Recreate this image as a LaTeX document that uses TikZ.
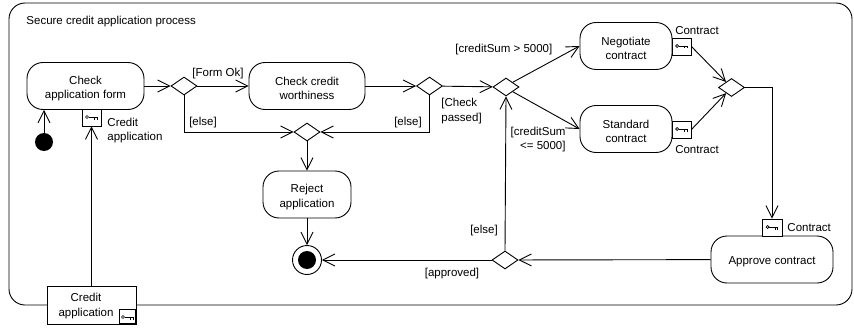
\documentclass[tikz,border=0pt]{standalone}
\usepackage{fontspec}
\setmainfont{Liberation Sans}
\usetikzlibrary{arrows.meta, shapes.geometric}
\tikzstyle{action} = [rectangle, rounded corners=16pt, minimum height=47pt, text centered, align=center, draw=black, inner sep=0pt, text height=28pt]
\tikzstyle{decision} = [diamond, minimum width=26pt, minimum height=18pt, inner sep=0pt, draw=black, fill=white]
\tikzstyle{pin} = [rectangle, minimum width=19pt, minimum height=17pt, inner sep=0pt, draw=black, fill=white]
\tikzstyle{label} = [inner sep=0pt, align=left, yshift=-2pt]
\tikzstyle{arrow} = [-{Straight Barb[length=12pt,width=12pt]}]
\newcommand{\keyglyph}[2]{%
  \draw[line width=0.7pt] (#1-4.5,#2) circle (1.5pt);
  \draw[line width=0.9pt] (#1-3,#2) -- (#1+6,#2);
  \draw[line width=0.7pt] (#1+3,#2) -- (#1+3,#2+2.5) (#1+5.5,#2) -- (#1+5.5,#2+2.5);
}
\begin{document}
\begin{tikzpicture}[x=1pt,y=-1pt,line width=0.9pt,font=\fontsize{11.5pt}{14.8pt}\selectfont]
\useasboundingbox (0,0) rectangle (854,329);

\draw[rounded corners=16pt] (9,3) rectangle (852,305);
\node (title) [label, anchor=west] at (26,20) {Secure credit application process};

% actions
\node (check_form) [action, minimum width=117pt] at (85.5,86) {Check\\application form};
\node (check_credit) [action, minimum width=116pt] at (307,86) {Check credit\\worthiness};
\node (reject) [action, minimum width=88pt] at (307,194.5) {Reject\\application};
\node (negotiate) [action, minimum width=92pt] at (626,46) {Negotiate\\contract};
\node (standard) [action, minimum width=92pt] at (626,129) {Standard\\contract};
\node (approve) [action, minimum width=122pt, text height=13pt] at (772,259.5) {Approve contract};

% decisions
\node (form_ok) [decision] at (184,86) {};
\node (passed) [decision] at (429.5,86) {};
\node (sum) [decision] at (506,87) {};
\node (merge) [decision] at (731.5,87.5) {};
\node (rejected) [decision] at (307,132) {};
\node (approved) [decision] at (505,260) {};

% start and end
\node (start) [circle, fill=black, minimum size=18pt, inner sep=0pt] at (44,142) {};
\node (final) [circle, draw=black, minimum size=29pt, inner sep=0pt] at (307,260) {};
\node (final_dot) [circle, fill=black, minimum size=18pt, inner sep=0pt] at (307,260) {};

% pins
\node (pin_form) [pin] at (91.5,117.5) {};
\node (pin_negotiate) [pin] at (681.5,46.5) {};
\node (pin_standard) [pin] at (681.5,129.5) {};
\node (pin_approve) [pin, minimum width=20pt] at (772,227.5) {};
\keyglyph{91.5}{117}
\keyglyph{681.5}{46}
\keyglyph{681.5}{129}
\keyglyph{772}{227}

% object
\node (credit_app) [rectangle, draw=black, minimum width=89pt, minimum height=38pt, inner sep=0pt, fill=white] at (91.5,305) {};
\node (credit_text) [align=center, inner sep=0pt, yshift=-1pt] at (86,305) {Credit\\application};
\node (pin_credit) [pin, minimum width=16pt, minimum height=14pt, anchor=south east] at (136,324) {};
\keyglyph{127.5}{317}

\draw [arrow] (start) -- (start |- check_form.south);
\draw [arrow] (credit_app.north) -- (pin_form.south);
\draw [arrow] (check_form) -- (form_ok);
\draw [arrow] (form_ok) -- (check_credit);
\draw [arrow] (check_credit) -- (passed);
\draw [arrow] (passed) -- (sum);
\draw [arrow] (form_ok.south) |- (rejected.west);
\draw [arrow] (passed.south) |- (rejected.east);
\draw [arrow] (rejected.south) -- (reject.north);
\draw [arrow] (reject.south) -- (final);
\draw [arrow] (sum.north east) -- (negotiate.west);
\draw [arrow] (sum.south east) -- (standard.west);
\draw [arrow] (pin_negotiate.east) -- (merge);
\draw [arrow] (pin_standard.east) -- (merge);
\draw [arrow] (merge.east) -| (pin_approve.north);
\draw [arrow] (approve) -- (approved);
\draw [arrow] (approved) -- (final);
\draw [arrow] (approved.north) -- (sum.south);

% labels
\node (l_form_ok) [label] at (218,72) {[Form Ok]};
\node (l_else1) [label] at (203,121) {[else]};
\node (l_else2) [label] at (408,121) {[else]};
\node (l_passed) [label, anchor=west] at (441,109) {[Check\\passed]};
\node (l_big) [label, anchor=west] at (455,48) {[creditSum > 5000]};
\node (l_small) [label, anchor=east, align=right] at (566,137.5) {[creditSum\\<= 5000]};
\node (l_else3) [label] at (484,229) {[else]};
\node (l_approved) [label] at (452,272) {[approved]};
\node (l_pin_form) [label, anchor=west] at (107,128.5) {Credit\\application};
\node (l_contract1) [label] at (697,29) {Contract};
\node (l_contract2) [label] at (697,148) {Contract};
\node (l_contract3) [label, anchor=west] at (787,226) {Contract};
\end{tikzpicture}
\end{document}
